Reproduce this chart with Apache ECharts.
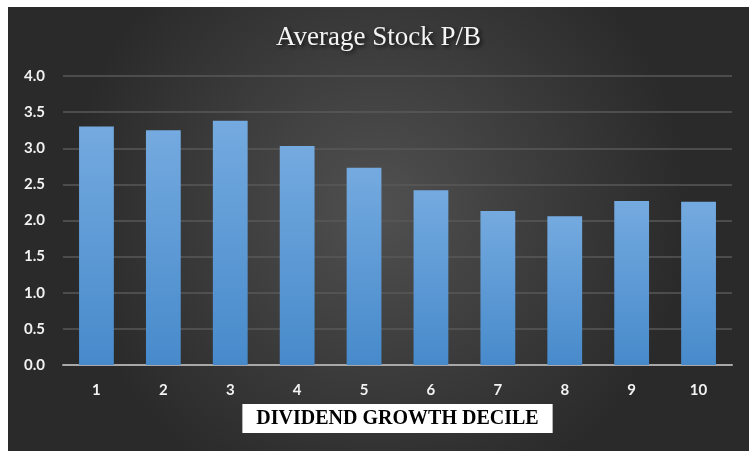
<!DOCTYPE html>
<html>
<head>
<meta charset="utf-8">
<script src="https://cdn.jsdelivr.net/npm/echarts@6/dist/echarts.min.js"></script>
<style>
  html, body { margin: 0; padding: 0; background: #fff; }
  #chart { position: absolute; left: 8px; top: 7px; width: 741px; height: 444px; }
</style>
</head>
<body>
<div id="chart"></div>
<script>
// deciles and average P/B
const deciles = ['1', '2', '3', '4', '5', '6', '7', '8', '9', '10']
const avgPB = [3.30, 3.25, 3.38, 3.03, 2.73, 2.42, 2.13, 2.06, 2.27, 2.26]
const yTicks = { min: 0, max: 4, interval: 0.5 }

const chart = echarts.init(document.getElementById('chart'))
chart.setOption({
  backgroundColor: new echarts.graphic.RadialGradient(0.5, 0.45, 0.7, [
    { offset: 0, color: '#505050' },
    { offset: 1, color: '#2a2a2a' }
  ]),
  title: {
    text: 'Average Stock P/B',
    left: 'center',
    top: 12,
    textStyle: {
      color: '#f4f4f4',
      fontFamily: 'Liberation Serif',
      fontWeight: 'normal',
      fontSize: 27,
      textShadowColor: 'rgba(0,0,0,0.8)',
      textShadowBlur: 4,
      textShadowOffsetX: 2,
      textShadowOffsetY: 2
    }
  },
  grid: { left: 55, right: 17, top: 69, bottom: 86 },
  xAxis: {
    type: 'category',
    data: deciles,
    axisTick: { show: false },
    axisLine: { lineStyle: { color: '#a8a8a8', width: 2 } },
    axisLabel: {
      color: '#f2f2f2',
      fontFamily: 'Lato',
      fontWeight: 'bold',
      fontSize: 15,
      margin: 18
    },
    name: 'DIVIDEND GROWTH DECILE',
    nameLocation: 'middle',
    nameGap: 39,
    nameTextStyle: {
      color: '#000',
      fontFamily: 'Liberation Serif',
      fontWeight: 'bold',
      fontSize: 20,
      backgroundColor: '#fff',
      padding: [5, 14, 4, 14]
    }
  },
  yAxis: {
    type: 'value',
    min: yTicks.min,
    max: yTicks.max,
    interval: yTicks.interval,
    axisLabel: {
      color: '#f2f2f2',
      fontFamily: 'Lato',
      fontWeight: 'bold',
      fontSize: 15,
      margin: 18,
      formatter: v => v.toFixed(1)
    },
    splitLine: { lineStyle: { color: '#585858', width: 1.5 } }
  },
  series: [{
    type: 'bar',
    data: avgPB,
    barWidth: '52%',
    itemStyle: {
      color: new echarts.graphic.LinearGradient(0, 0, 0, 1, [
        { offset: 0, color: '#74aadf' },
        { offset: 1, color: '#478acb' }
      ]),
      shadowColor: 'rgba(0,0,0,0.55)',
      shadowBlur: 7,
      shadowOffsetX: 3,
      shadowOffsetY: 2
    }
  }]
})
</script>
</body>
</html>
